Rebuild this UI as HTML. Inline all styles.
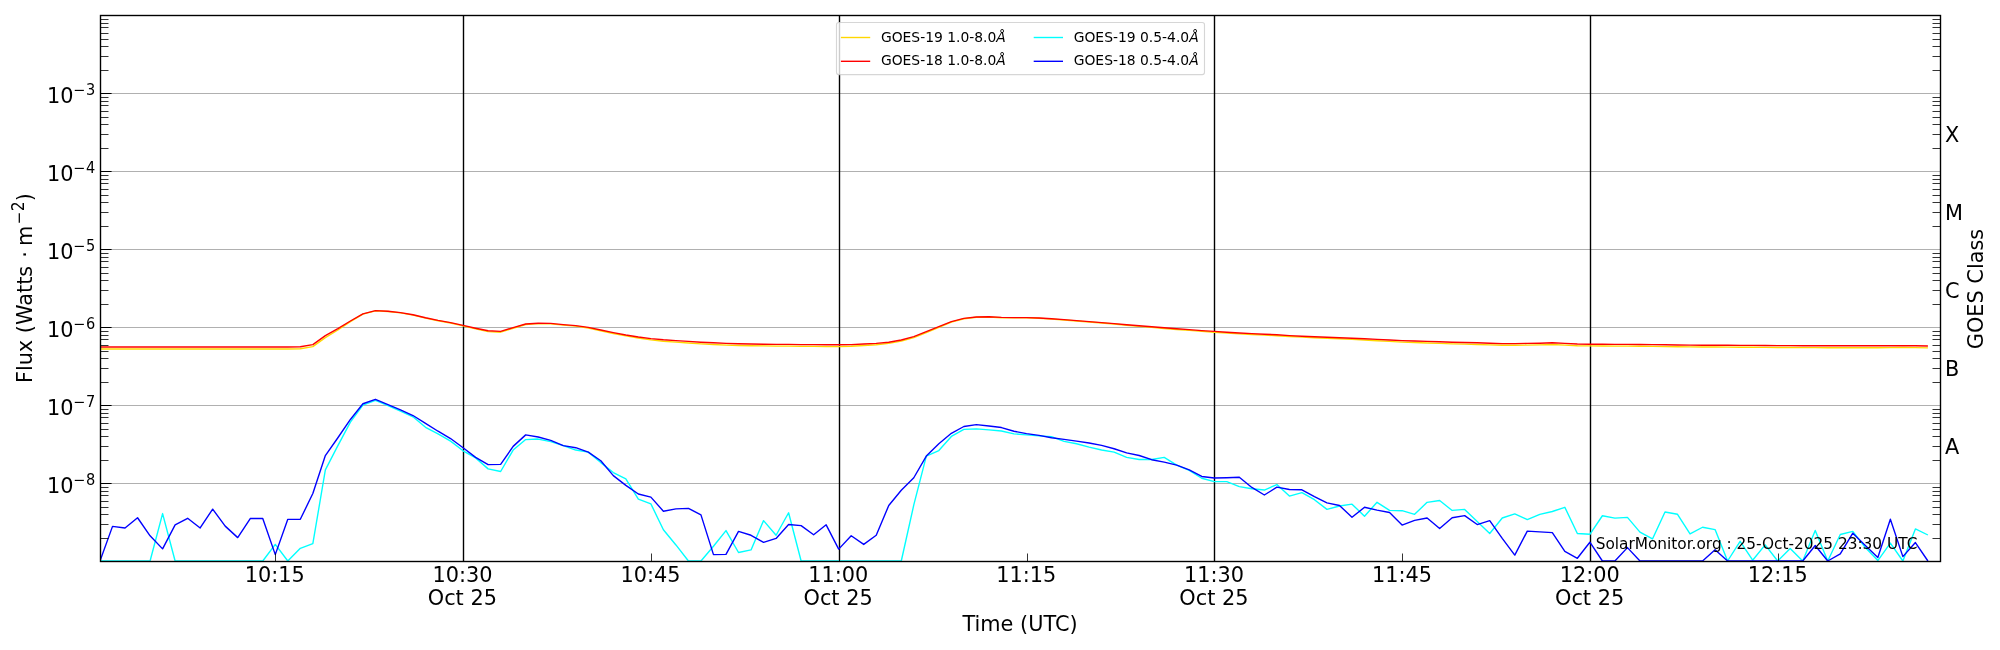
<!DOCTYPE html>
<html lang="en"><head><meta charset="utf-8"><title>GOES X-ray Flux</title>
<style>html,body{margin:0;padding:0;background:#fff}body{width:2000px;height:650px;overflow:hidden}svg{display:block;will-change:transform}text{font-family:"DejaVu Sans","Liberation Sans",sans-serif;fill:#000}</style>
</head><body>
<svg width="2000" height="650" viewBox="0 0 2000 650">
<rect x="0" y="0" width="2000" height="650" fill="#fff"/>
<defs><clipPath id="ax"><rect x="100" y="15" width="1840.5" height="547"/></clipPath></defs>
<path d="M100.5 93.5H1940.5M100.5 171.5H1940.5M100.5 249.5H1940.5M100.5 327.5H1940.5M100.5 405.5H1940.5M100.5 483.5H1940.5" stroke="#b0b0b0" stroke-width="1.1" fill="none"/>
<path d="M463.5 15.5V561.5M839.5 15.5V561.5M1214.5 15.5V561.5M1590.5 15.5V561.5" stroke="#000" stroke-width="1.39" fill="none"/>
<g clip-path="url(#ax)">
<polyline points="100,349 112.52,349 125.04,349 137.56,349 150.08,349 162.6,349 175.12,349 187.64,349 200.16,349 212.68,349 225.2,349 237.72,349 250.24,349 262.76,349 275.28,349 287.8,349 300.32,348.78 312.84,346.6 325.36,337.6 337.88,330 350.4,321.6 362.92,314.2 375.44,310.84 387.96,311.45 400.48,312.86 413,315.08 425.52,318.1 438.04,320.77 450.56,323.03 463.08,325.92 475.6,328.86 488.12,331.59 500.64,332.21 513.16,328.23 525.68,324.47 538.2,323.65 550.72,323.85 563.24,325.09 575.76,326.13 588.28,328.02 600.8,330.75 613.32,333.45 625.84,335.93 638.36,338 650.88,339.82 663.4,341.19 675.92,342.1 688.44,342.97 700.96,343.82 713.48,344.45 726,345.08 738.52,345.51 751.04,345.72 763.56,345.93 776.08,346.14 788.6,346.14 801.12,346.35 813.64,346.35 826.16,346.57 838.68,346.57 851.2,346.2 863.72,345.45 876.24,344.7 888.76,343.4 901.28,341.1 913.8,337.7 926.32,332.6 938.84,327.3 951.36,322.1 963.88,318.71 976.4,317.29 988.92,317.09 1001.44,317.7 1013.96,317.9 1026.48,317.9 1039,318.3 1051.52,319.12 1064.04,319.95 1076.56,320.97 1089.08,322 1101.6,323.03 1114.12,324.06 1126.64,325.29 1139.16,326.34 1151.68,327.39 1164.2,328.44 1176.72,329.49 1189.24,330.33 1201.76,331.38 1214.28,332.21 1226.8,333.04 1239.32,333.87 1251.84,334.49 1264.36,335.11 1276.88,335.73 1289.4,336.55 1301.92,337.17 1314.44,337.69 1326.96,338.23 1339.48,338.8 1352,339.37 1364.52,340.05 1377.04,340.73 1389.56,341.41 1402.08,342.1 1414.6,342.55 1427.12,342.97 1439.64,343.39 1452.16,343.82 1464.68,344.13 1477.2,344.45 1489.72,344.87 1502.24,345.29 1514.76,345.29 1527.28,345.08 1539.8,344.87 1552.32,344.45 1564.84,345.08 1577.36,345.72 1589.88,345.93 1602.4,346.03 1614.92,346.14 1627.44,346.14 1639.96,346.24 1652.48,346.35 1665,346.57 1677.52,346.79 1690.04,346.9 1702.56,347.01 1715.08,347.01 1727.6,347.12 1740.12,347.24 1752.64,347.24 1765.16,347.35 1777.68,347.46 1790.2,347.46 1802.72,347.57 1815.24,347.68 1827.76,347.68 1840.28,347.68 1852.8,347.68 1865.32,347.68 1877.84,347.68 1890.36,347.57 1902.88,347.46 1915.4,347.68 1927.92,347.9" fill="none" stroke="#ffd700" stroke-width="1.39" stroke-linejoin="round" stroke-linecap="butt"/>
<polyline points="100,347 112.52,347 125.04,347 137.56,347 150.08,347 162.6,347 175.12,347 187.64,347 200.16,347 212.68,347 225.2,347 237.72,347 250.24,347 262.76,347 275.28,347 287.8,347 300.32,346.8 312.84,344.6 325.36,335.6 337.88,328.6 350.4,321 362.92,313.8 375.44,310.6 387.96,311.2 400.48,312.6 413,314.8 425.52,317.8 438.04,320.4 450.56,322.6 463.08,325.4 475.6,328.2 488.12,330.8 500.64,331.4 513.16,327.6 525.68,324 538.2,323.2 550.72,323.4 563.24,324.6 575.76,325.6 588.28,327.4 600.8,330 613.32,332.6 625.84,335 638.36,337 650.88,338.6 663.4,339.8 675.92,340.6 688.44,341.4 700.96,342.2 713.48,342.8 726,343.4 738.52,343.8 751.04,344 763.56,344.2 776.08,344.4 788.6,344.4 801.12,344.6 813.64,344.6 826.16,344.8 838.68,344.8 851.2,344.6 863.72,344 876.24,343.4 888.76,342.2 901.28,340 913.8,336.6 926.32,331.6 938.84,326.6 951.36,321.6 963.88,318.4 976.4,317 988.92,316.8 1001.44,317.4 1013.96,317.6 1026.48,317.6 1039,318 1051.52,318.8 1064.04,319.6 1076.56,320.6 1089.08,321.6 1101.6,322.6 1114.12,323.6 1126.64,324.8 1139.16,325.8 1151.68,326.8 1164.2,327.8 1176.72,328.8 1189.24,329.6 1201.76,330.6 1214.28,331.4 1226.8,332.2 1239.32,333 1251.84,333.6 1264.36,334.2 1276.88,334.8 1289.4,335.6 1301.92,336.2 1314.44,336.7 1326.96,337.2 1339.48,337.7 1352,338.2 1364.52,338.8 1377.04,339.4 1389.56,340 1402.08,340.6 1414.6,341 1427.12,341.4 1439.64,341.8 1452.16,342.2 1464.68,342.5 1477.2,342.8 1489.72,343.2 1502.24,343.6 1514.76,343.6 1527.28,343.4 1539.8,343.2 1552.32,342.8 1564.84,343.4 1577.36,344 1589.88,344.2 1602.4,344.3 1614.92,344.4 1627.44,344.4 1639.96,344.5 1652.48,344.6 1665,344.8 1677.52,345 1690.04,345.1 1702.56,345.2 1715.08,345.2 1727.6,345.3 1740.12,345.4 1752.64,345.4 1765.16,345.5 1777.68,345.6 1790.2,345.6 1802.72,345.7 1815.24,345.8 1827.76,345.8 1840.28,345.8 1852.8,345.8 1865.32,345.8 1877.84,345.8 1890.36,345.7 1902.88,345.6 1915.4,345.8 1927.92,346" fill="none" stroke="#ff0000" stroke-width="1.39" stroke-linejoin="round" stroke-linecap="butt"/>
<polyline points="100,561 112.52,561 125.04,561 137.56,561 150.08,561 162.6,513.57 175.12,561 187.64,561 200.16,561 212.68,561 225.2,561 237.72,561 250.24,561 262.76,561 275.28,544.42 287.8,561 300.32,548.34 312.84,543.63 325.36,469.91 337.88,445.59 350.4,422.07 362.92,405.07 375.44,400.37 387.96,405.59 400.48,411.08 413,416.84 425.52,427.29 438.04,433.83 450.56,441.15 463.08,450.82 475.6,457.88 488.12,468.86 500.64,471.48 513.16,450.04 525.68,439.58 538.2,439.06 550.72,441.67 563.24,445.59 575.76,450.04 588.28,452.13 600.8,462.59 613.32,472.52 625.84,478.8 638.36,499.19 650.88,503.9 663.4,529.78 675.92,544.94 688.44,561 700.96,561 713.48,546.25 726,530.56 738.52,552.52 751.04,549.91 763.56,520.63 776.08,535.27 788.6,512.78 801.12,561 813.64,561 826.16,561 838.68,561 851.2,561 863.72,561 876.24,561 888.76,561 901.28,561 913.8,504.94 926.32,456.05 938.84,450.56 951.36,436.44 963.88,429.39 976.4,428.86 988.92,429.91 1001.44,430.95 1013.96,433.83 1026.48,434.88 1039,435.92 1051.52,436.71 1064.04,441.41 1076.56,443.76 1089.08,447.16 1101.6,450.04 1114.12,452.13 1126.64,457.36 1139.16,459.45 1151.68,459.45 1164.2,457.36 1176.72,465.2 1189.24,470.43 1201.76,478.27 1214.28,481.67 1226.8,481.67 1239.32,486.64 1251.84,488.73 1264.36,490.04 1276.88,484.55 1289.4,496.05 1301.92,492.65 1314.44,499.71 1326.96,509.39 1339.48,505.99 1352,504.16 1364.52,516.18 1377.04,502.33 1389.56,510.43 1402.08,510.69 1414.6,514.35 1427.12,502.33 1439.64,500.5 1452.16,510.43 1464.68,509.39 1477.2,521.41 1489.72,533.44 1502.24,518.01 1514.76,513.83 1527.28,519.58 1539.8,514.35 1552.32,511.48 1564.84,507.29 1577.36,533.44 1589.88,534.28 1602.4,515.74 1614.92,518.08 1627.44,517.36 1639.96,532.12 1652.48,538.96 1665,511.96 1677.52,514.3 1690.04,533.92 1702.56,527.26 1715.08,529.6 1727.6,561 1740.12,541.3 1752.64,560.2 1765.16,544.9 1777.68,561 1790.2,548.5 1802.72,561 1815.24,530.5 1827.76,561 1840.28,534.46 1852.8,531.4 1865.32,547.6 1877.84,560.56 1890.36,543.1 1902.88,561 1915.4,528.88 1927.92,535" fill="none" stroke="#00ffff" stroke-width="1.39" stroke-linejoin="round" stroke-linecap="butt"/>
<polyline points="100,561 112.52,526.38 125.04,527.95 137.56,517.75 150.08,535.79 162.6,548.86 175.12,524.81 187.64,518.27 200.16,527.95 212.68,509.12 225.2,526.12 237.72,537.62 250.24,518.54 262.76,518.54 275.28,554.61 287.8,519.32 300.32,519.32 312.84,493.44 325.36,455.53 337.88,437.75 350.4,419.45 362.92,403.76 375.44,399.32 387.96,404.55 400.48,409.78 413,415.53 425.52,423.37 438.04,431.22 450.56,438.54 463.08,447.69 475.6,457.36 488.12,464.68 500.64,464.42 513.16,446.38 525.68,434.88 538.2,436.97 550.72,440.37 563.24,445.59 575.76,447.69 588.28,452.13 600.8,460.76 613.32,475.66 625.84,485.33 638.36,493.96 650.88,497.1 663.4,511.22 675.92,508.86 688.44,508.34 700.96,514.88 713.48,554.61 726,554.35 738.52,531.35 751.04,535.27 763.56,542.33 776.08,538.41 788.6,524.55 801.12,525.59 813.64,534.75 826.16,524.81 838.68,549.12 851.2,535.79 863.72,544.42 876.24,535.27 888.76,505.46 901.28,490.3 913.8,477.75 926.32,456.05 938.84,443.76 951.36,433.31 963.88,426.51 976.4,424.68 988.92,425.99 1001.44,427.56 1013.96,431.22 1026.48,433.57 1039,435.4 1051.52,437.75 1064.04,439.32 1076.56,441.15 1089.08,442.98 1101.6,445.33 1114.12,448.73 1126.64,452.92 1139.16,455.53 1151.68,459.71 1164.2,462.07 1176.72,465.2 1189.24,469.91 1201.76,476.44 1214.28,478.01 1226.8,477.75 1239.32,477.23 1251.84,487.42 1264.36,495.01 1276.88,487.16 1289.4,489.52 1301.92,489.78 1314.44,496.58 1326.96,502.85 1339.48,505.46 1352,517.23 1364.52,507.29 1377.04,510.17 1389.56,512.52 1402.08,525.07 1414.6,520.37 1427.12,518.01 1439.64,528.47 1452.16,517.75 1464.68,515.66 1477.2,524.55 1489.72,520.63 1502.24,538.41 1514.76,555.14 1527.28,531.08 1539.8,531.87 1552.32,532.65 1564.84,551.48 1577.36,558.27 1589.88,542.2 1602.4,561 1614.92,561 1627.44,547.6 1639.96,561 1652.48,561 1665,561 1677.52,561 1690.04,561 1702.56,561 1715.08,549.76 1727.6,561 1740.12,561 1752.64,561 1765.16,561 1777.68,561 1790.2,561 1802.72,561 1815.24,545.44 1827.76,561 1840.28,553.9 1852.8,533.2 1865.32,545.44 1877.84,557.5 1890.36,519.16 1902.88,556.6 1915.4,542.56 1927.92,561" fill="none" stroke="#0000ff" stroke-width="1.39" stroke-linejoin="round" stroke-linecap="butt"/>
</g>
<path d="M100.5 15.5h11.1M100.5 93.5h11.1M100.5 171.5h11.1M100.5 249.5h11.1M100.5 327.5h11.1M100.5 405.5h11.1M100.5 483.5h11.1M100.5 561.5h11.1M463.5 561.5v-11.1M839.5 561.5v-11.1M1214.5 561.5v-11.1M1590.5 561.5v-11.1" stroke="#000" stroke-width="1.0" fill="none"/>
<path d="M100.5 70.5h8M1940.5 70.5h-8M100.5 56.5h8M1940.5 56.5h-8M100.5 46.5h8M1940.5 46.5h-8M100.5 39.5h8M1940.5 39.5h-8M100.5 33.5h8M1940.5 33.5h-8M100.5 27.5h8M1940.5 27.5h-8M100.5 23.5h8M1940.5 23.5h-8M100.5 19.5h8M1940.5 19.5h-8M100.5 148.5h8M1940.5 148.5h-8M100.5 134.5h8M1940.5 134.5h-8M100.5 124.5h8M1940.5 124.5h-8M100.5 117.5h8M1940.5 117.5h-8M100.5 111.5h8M1940.5 111.5h-8M100.5 105.5h8M1940.5 105.5h-8M100.5 101.5h8M1940.5 101.5h-8M100.5 97.5h8M1940.5 97.5h-8M100.5 226.5h8M1940.5 226.5h-8M100.5 212.5h8M1940.5 212.5h-8M100.5 202.5h8M1940.5 202.5h-8M100.5 195.5h8M1940.5 195.5h-8M100.5 189.5h8M1940.5 189.5h-8M100.5 183.5h8M1940.5 183.5h-8M100.5 179.5h8M1940.5 179.5h-8M100.5 175.5h8M1940.5 175.5h-8M100.5 304.5h8M1940.5 304.5h-8M100.5 290.5h8M1940.5 290.5h-8M100.5 280.5h8M1940.5 280.5h-8M100.5 273.5h8M1940.5 273.5h-8M100.5 267.5h8M1940.5 267.5h-8M100.5 261.5h8M1940.5 261.5h-8M100.5 257.5h8M1940.5 257.5h-8M100.5 253.5h8M1940.5 253.5h-8M100.5 382.5h8M1940.5 382.5h-8M100.5 368.5h8M1940.5 368.5h-8M100.5 358.5h8M1940.5 358.5h-8M100.5 351.5h8M1940.5 351.5h-8M100.5 345.5h8M1940.5 345.5h-8M100.5 339.5h8M1940.5 339.5h-8M100.5 335.5h8M1940.5 335.5h-8M100.5 331.5h8M1940.5 331.5h-8M100.5 460.5h8M1940.5 460.5h-8M100.5 446.5h8M1940.5 446.5h-8M100.5 436.5h8M1940.5 436.5h-8M100.5 429.5h8M1940.5 429.5h-8M100.5 423.5h8M1940.5 423.5h-8M100.5 417.5h8M1940.5 417.5h-8M100.5 413.5h8M1940.5 413.5h-8M100.5 409.5h8M1940.5 409.5h-8M100.5 538.5h8M1940.5 538.5h-8M100.5 524.5h8M1940.5 524.5h-8M100.5 514.5h8M1940.5 514.5h-8M100.5 507.5h8M1940.5 507.5h-8M100.5 501.5h8M1940.5 501.5h-8M100.5 495.5h8M1940.5 495.5h-8M100.5 491.5h8M1940.5 491.5h-8M100.5 487.5h8M1940.5 487.5h-8M275.5 561.5v-8M651.5 561.5v-8M1027.5 561.5v-8M1402.5 561.5v-8M1778.5 561.5v-8" stroke="#000" stroke-width="0.8" fill="none"/>
<rect x="100.5" y="15.5" width="1840" height="546" fill="none" stroke="#000" stroke-width="1.39"/>
<text x="46.9" y="102.8" font-size="20.83">10<tspan dx="-0.5" dy="-7.8" font-size="14.58">−</tspan></text>
<text transform="translate(86.0 95) scale(1 1.1)" font-size="14.58">3</text>
<text x="46.9" y="180.8" font-size="20.83">10<tspan dx="-0.5" dy="-7.8" font-size="14.58">−</tspan></text>
<text transform="translate(86.0 173) scale(1 1.1)" font-size="14.58">4</text>
<text x="46.9" y="258.8" font-size="20.83">10<tspan dx="-0.5" dy="-7.8" font-size="14.58">−</tspan></text>
<text transform="translate(86.0 251) scale(1 1.1)" font-size="14.58">5</text>
<text x="46.9" y="336.8" font-size="20.83">10<tspan dx="-0.5" dy="-7.8" font-size="14.58">−</tspan></text>
<text transform="translate(86.0 329) scale(1 1.1)" font-size="14.58">6</text>
<text x="46.9" y="414.8" font-size="20.83">10<tspan dx="-0.5" dy="-7.8" font-size="14.58">−</tspan></text>
<text transform="translate(86.0 407) scale(1 1.1)" font-size="14.58">7</text>
<text x="46.9" y="492.8" font-size="20.83">10<tspan dx="-0.5" dy="-7.8" font-size="14.58">−</tspan></text>
<text transform="translate(86.0 485) scale(1 1.1)" font-size="14.58">8</text>
<text x="274.8" y="582" font-size="20.83" text-anchor="middle">10:15</text>
<text x="462.55" y="582" font-size="20.83" text-anchor="middle">10:30</text>
<text x="462.35" y="604.9" font-size="20.83" text-anchor="middle">Oct 25</text>
<text x="650.55" y="582" font-size="20.83" text-anchor="middle">10:45</text>
<text x="838.3" y="582" font-size="20.83" text-anchor="middle">11:00</text>
<text x="838.1" y="604.9" font-size="20.83" text-anchor="middle">Oct 25</text>
<text x="1026.2" y="582" font-size="20.83" text-anchor="middle">11:15</text>
<text x="1214.1" y="582" font-size="20.83" text-anchor="middle">11:30</text>
<text x="1213.9" y="604.9" font-size="20.83" text-anchor="middle">Oct 25</text>
<text x="1401.9" y="582" font-size="20.83" text-anchor="middle">11:45</text>
<text x="1589.8" y="582" font-size="20.83" text-anchor="middle">12:00</text>
<text x="1589.6" y="604.9" font-size="20.83" text-anchor="middle">Oct 25</text>
<text x="1777.7" y="582" font-size="20.83" text-anchor="middle">12:15</text>
<text x="1020" y="630.8" font-size="20.83" text-anchor="middle">Time (UTC)</text>
<g transform="translate(31.9 383.1) rotate(-90)">
<text x="0" y="0" font-size="20.83">Flux (Watts<tspan dx="1.5"> · </tspan><tspan dx="-1.5">m</tspan><tspan dx="1.5" dy="-7.8" font-size="15.5">−</tspan></text>
<text transform="translate(171.9 -7.6) scale(1 1.1)" font-size="15.5">2</text>
<text x="181.75" y="0" font-size="20.83">)</text>
</g>
<text x="1945" y="141.6" font-size="20.83">X</text>
<text x="1945" y="219.6" font-size="20.83">M</text>
<text x="1945" y="297.6" font-size="20.83">C</text>
<text x="1945" y="375.6" font-size="20.83">B</text>
<text x="1945" y="453.6" font-size="20.83">A</text>
<text transform="translate(1983 289) rotate(-90)" font-size="20.83" text-anchor="middle">GOES Class</text>
<text x="1595.7" y="548.75" font-size="15.33">SolarMonitor.org : 25-Oct-2025 23:30 UTC</text>
<rect x="836.5" y="22.5" width="368" height="52.1" rx="2.3" ry="2.3" fill="#fff" fill-opacity="0.8" stroke="#ccc" stroke-opacity="0.8" stroke-width="1.1"/>
<path d="M840.9 37.5h29.3" stroke="#ffd700" stroke-width="1.39" fill="none"/>
<text x="880.9" y="41.7" font-size="13.89">GOES-19 1.0-8.0<tspan font-style="italic">Å</tspan></text>
<path d="M840.9 61.3h29.3" stroke="#ff0000" stroke-width="1.39" fill="none"/>
<text x="880.9" y="65" font-size="13.89">GOES-18 1.0-8.0<tspan font-style="italic">Å</tspan></text>
<path d="M1033.7 37.5h29.3" stroke="#00ffff" stroke-width="1.39" fill="none"/>
<text x="1073.7" y="41.7" font-size="13.89">GOES-19 0.5-4.0<tspan font-style="italic">Å</tspan></text>
<path d="M1033.7 61.3h29.3" stroke="#0000ff" stroke-width="1.39" fill="none"/>
<text x="1073.7" y="65" font-size="13.89">GOES-18 0.5-4.0<tspan font-style="italic">Å</tspan></text>
</svg></body></html>
